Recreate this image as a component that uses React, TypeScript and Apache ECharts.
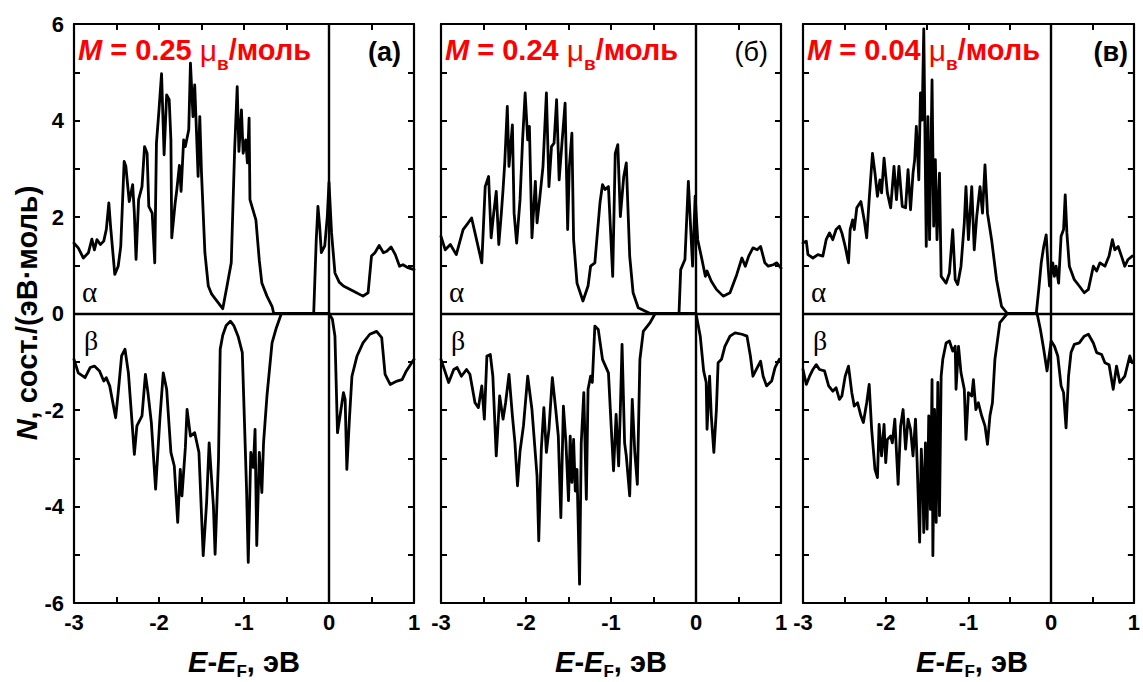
import React, { useEffect, useRef } from 'react';
import * as echarts from 'echarts';

const FONT = '"Liberation Sans", Arial, sans-serif';

const magMoments = ['0.25', '0.24', '0.04'];
const panelLabels = ['(а)', '(б)', '(в)'];
const xRange = [-3, 1];
const yRange = [-6, 6];

const alphaA: number[][] = [[-3,1.46],[-2.95,1.36],[-2.89,1.15],[-2.83,1.26],[-2.79,1.54],[-2.76,1.32],[-2.73,1.53],[-2.69,1.43],[-2.65,1.5],[-2.62,1.74],[-2.59,2.29],[-2.57,1.81],[-2.52,0.81],[-2.48,0.98],[-2.45,1.39],[-2.41,3.15],[-2.39,3.05],[-2.35,2.32],[-2.31,2.67],[-2.29,2.08],[-2.27,1.12],[-2.24,2.36],[-2.2,2.63],[-2.17,3.46],[-2.14,3.32],[-2.12,2.22],[-2.08,2.08],[-2.05,1.05],[-2.03,3.53],[-2.0,4.22],[-1.97,4.97],[-1.94,3.29],[-1.91,4.53],[-1.88,4.43],[-1.86,3.6],[-1.85,1.57],[-1.81,2.29],[-1.79,2.57],[-1.76,3.07],[-1.74,2.53],[-1.71,3.6],[-1.69,3.46],[-1.65,3.81],[-1.63,5.19],[-1.6,4.08],[-1.58,4.74],[-1.56,3.81],[-1.54,2.84],[-1.52,4.08],[-1.5,2.91],[-1.46,1.26],[-1.42,0.57],[-1.38,0.4],[-1.32,0.26],[-1.25,0.1],[-1.2,0.57],[-1.15,1.05],[-1.11,3.4],[-1.08,4.7],[-1.06,3.36],[-1.03,4.22],[-1.01,3.32],[-0.98,3.6],[-0.96,3.12],[-0.94,4.05],[-0.93,2.36],[-0.86,1.94],[-0.82,1.1],[-0.79,0.63],[-0.73,0.36],[-0.67,0.15],[-0.65,0],[-0.18,0],[-0.15,1.53],[-0.13,2.22],[-0.11,1.81],[-0.09,1.26],[-0.05,1.4],[-0.02,2.01],[0.0,2.72],[0.03,1.67],[0.07,0.84],[0.12,0.65],[0.17,0.57],[0.29,0.46],[0.4,0.36],[0.46,0.43],[0.5,1.19],[0.54,1.26],[0.59,1.41],[0.64,1.26],[0.68,1.29],[0.73,1.38],[0.78,1.22],[0.83,0.98],[0.87,1.01],[0.93,0.95],[1.0,0.91]];

const betaA: number[][] = [[-3,-0.95],[-2.95,-1.23],[-2.87,-1.33],[-2.81,-1.12],[-2.76,-1.09],[-2.7,-1.19],[-2.65,-1.4],[-2.62,-1.33],[-2.58,-1.5],[-2.51,-2.16],[-2.48,-1.64],[-2.44,-0.88],[-2.4,-0.74],[-2.36,-1.23],[-2.32,-2.19],[-2.29,-2.92],[-2.26,-2.33],[-2.2,-2.12],[-2.16,-1.26],[-2.13,-1.64],[-2.09,-2.26],[-2.04,-3.64],[-1.99,-2.19],[-1.95,-1.23],[-1.91,-1.57],[-1.86,-2.88],[-1.82,-3.16],[-1.78,-4.33],[-1.75,-3.23],[-1.73,-3.78],[-1.69,-2.78],[-1.67,-1.99],[-1.63,-2.54],[-1.58,-2.47],[-1.53,-2.88],[-1.48,-5.02],[-1.44,-3.92],[-1.41,-2.68],[-1.36,-3.99],[-1.34,-4.99],[-1.3,-3.02],[-1.28,-0.74],[-1.25,-0.45],[-1.21,-0.25],[-1.16,-0.16],[-1.12,-0.25],[-1.07,-0.47],[-1.02,-0.81],[-0.97,-3.64],[-0.95,-5.16],[-0.92,-2.88],[-0.89,-3.19],[-0.87,-2.4],[-0.85,-4.81],[-0.82,-2.88],[-0.79,-3.71],[-0.77,-2.68],[-0.73,-1.71],[-0.67,-0.61],[-0.62,-0.3],[-0.56,0],[0,0],[0.04,-0.12],[0.07,-0.47],[0.1,-2.47],[0.13,-2.12],[0.17,-1.64],[0.19,-1.78],[0.21,-3.23],[0.24,-2.19],[0.27,-1.3],[0.33,-0.88],[0.4,-0.61],[0.48,-0.43],[0.56,-0.37],[0.62,-0.5],[0.66,-1.26],[0.72,-1.47],[0.8,-1.4],[0.86,-1.37],[0.91,-1.19],[1.0,-0.95]];

const alphaB: number[][] = [[-3,1.6],[-2.95,1.32],[-2.89,1.43],[-2.82,1.22],[-2.74,1.74],[-2.68,1.88],[-2.64,1.98],[-2.6,1.67],[-2.52,1.05],[-2.48,2.63],[-2.44,2.84],[-2.41,1.57],[-2.38,2.08],[-2.35,2.53],[-2.32,1.43],[-2.29,2.08],[-2.27,2.57],[-2.25,3.12],[-2.22,4.29],[-2.2,3.05],[-2.16,3.91],[-2.14,2.08],[-2.11,1.46],[-2.07,2.36],[-2.04,3.6],[-2.01,4.57],[-1.98,3.6],[-1.96,3.88],[-1.93,1.57],[-1.89,2.74],[-1.87,1.88],[-1.84,2.36],[-1.8,3.05],[-1.76,4.57],[-1.73,2.63],[-1.7,3.46],[-1.67,3.53],[-1.64,4.43],[-1.61,2.77],[-1.58,3.46],[-1.54,4.36],[-1.51,1.74],[-1.49,3.05],[-1.46,3.74],[-1.44,1.53],[-1.4,0.63],[-1.33,0.26],[-1.27,0.57],[-1.24,0.98],[-1.19,1.05],[-1.13,2.29],[-1.1,2.67],[-1.07,2.57],[-1.03,2.63],[-0.98,0.77],[-0.95,3.32],[-0.92,3.5],[-0.89,2.01],[-0.85,2.84],[-0.82,3.12],[-0.78,1.19],[-0.74,0.43],[-0.68,0.12],[-0.54,0],[-0.2,0],[-0.18,0.91],[-0.13,1.12],[-0.09,2.74],[-0.06,1.67],[-0.04,0.98],[-0.01,2.43],[0.02,1.53],[0.07,1.12],[0.11,0.77],[0.13,0.88],[0.18,0.67],[0.24,0.5],[0.32,0.36],[0.4,0.43],[0.48,0.81],[0.54,1.15],[0.58,0.98],[0.62,1.19],[0.67,1.36],[0.72,1.32],[0.76,1.39],[0.81,1.05],[0.85,0.98],[0.91,1.01],[0.95,1.05],[1.0,0.94]];

const betaB: number[][] = [[-3,-0.95],[-2.91,-1.43],[-2.85,-1.16],[-2.81,-1.12],[-2.76,-1.3],[-2.7,-1.16],[-2.66,-1.26],[-2.6,-1.85],[-2.56,-1.95],[-2.52,-1.5],[-2.49,-2.19],[-2.46,-0.88],[-2.42,-0.85],[-2.39,-1.3],[-2.35,-2.95],[-2.31,-1.71],[-2.27,-2.19],[-2.24,-1.85],[-2.2,-1.26],[-2.16,-2.12],[-2.13,-2.68],[-2.1,-3.57],[-2.07,-2.85],[-2.03,-2.33],[-1.98,-1.3],[-1.93,-1.99],[-1.87,-3.37],[-1.85,-4.71],[-1.82,-2.81],[-1.79,-1.95],[-1.76,-2.88],[-1.73,-2.4],[-1.69,-1.33],[-1.65,-1.99],[-1.62,-2.54],[-1.59,-4.23],[-1.56,-1.92],[-1.53,-2.68],[-1.5,-3.88],[-1.48,-2.54],[-1.46,-3.5],[-1.44,-2.61],[-1.42,-3.68],[-1.4,-3.23],[-1.37,-5.61],[-1.35,-2.68],[-1.32,-1.64],[-1.29,-3.85],[-1.27,-1.57],[-1.24,-1.3],[-1.22,-1.43],[-1.19,-0.26],[-1.15,-0.33],[-1.1,-0.95],[-1.03,-1.23],[-0.99,-2.61],[-0.97,-3.26],[-0.94,-2.09],[-0.91,-3.16],[-0.89,-1.99],[-0.87,-0.64],[-0.84,-2.68],[-0.82,-2.95],[-0.78,-3.78],[-0.75,-1.78],[-0.72,-2.88],[-0.69,-3.54],[-0.66,-0.95],[-0.62,-0.37],[-0.54,-0.19],[-0.48,0],[0,0],[0.05,-0.47],[0.09,-1.19],[0.12,-1.43],[0.13,-2.4],[0.16,-1.3],[0.18,-2.12],[0.21,-2.88],[0.24,-1.99],[0.26,-1.02],[0.3,-0.95],[0.34,-0.68],[0.4,-0.47],[0.46,-0.4],[0.54,-0.43],[0.6,-0.47],[0.64,-0.88],[0.67,-1.3],[0.71,-1.16],[0.76,-0.99],[0.79,-1.3],[0.83,-1.5],[0.89,-1.4],[0.93,-1.12],[0.98,-0.95]];

const alphaC: number[][] = [[-3,1.46],[-2.96,1.5],[-2.94,1.22],[-2.88,1.15],[-2.82,1.22],[-2.76,1.19],[-2.72,1.53],[-2.68,1.67],[-2.64,1.53],[-2.6,1.74],[-2.56,1.81],[-2.53,1.67],[-2.49,1.39],[-2.45,1.05],[-2.43,1.74],[-2.4,1.94],[-2.38,1.74],[-2.35,2.19],[-2.3,2.32],[-2.26,1.94],[-2.23,1.57],[-2.2,2.36],[-2.16,3.32],[-2.13,2.91],[-2.1,2.43],[-2.07,2.77],[-2.05,2.5],[-2.02,3.22],[-1.98,2.5],[-1.94,2.19],[-1.9,3.05],[-1.87,2.36],[-1.84,3.05],[-1.8,2.22],[-1.76,2.19],[-1.73,2.98],[-1.7,2.15],[-1.67,2.91],[-1.65,3.19],[-1.63,3.88],[-1.6,2.77],[-1.58,4.57],[-1.56,4.01],[-1.54,5.9],[-1.51,1.39],[-1.49,4.08],[-1.47,1.53],[-1.44,4.84],[-1.42,1.81],[-1.4,3.19],[-1.38,1.53],[-1.35,2.91],[-1.33,0.77],[-1.27,0.63],[-1.23,0.84],[-1.19,1.74],[-1.16,0.7],[-1.13,0.6],[-1.09,0.98],[-1.05,1.88],[-1.03,2.63],[-1.0,1.53],[-0.96,2.63],[-0.93,1.32],[-0.9,2.01],[-0.86,2.63],[-0.83,2.08],[-0.8,3.08],[-0.77,2.08],[-0.72,1.53],[-0.66,0.7],[-0.6,0.15],[-0.53,0],[-0.18,0],[-0.15,0.5],[-0.12,1.05],[-0.09,1.39],[-0.06,1.63],[-0.04,1.05],[-0.02,0.57],[0.02,1.05],[0.04,0.77],[0.06,0.98],[0.09,0.63],[0.12,1.6],[0.15,1.74],[0.17,2.46],[0.19,1.67],[0.22,0.98],[0.28,0.7],[0.34,0.57],[0.4,0.43],[0.45,0.5],[0.51,0.98],[0.55,0.88],[0.59,1.05],[0.65,0.98],[0.7,1.19],[0.74,1.53],[0.77,1.32],[0.81,1.39],[0.85,1.19],[0.89,0.98],[0.93,1.12],[0.98,1.19]];

const betaC: number[][] = [[-3,-1.16],[-2.96,-1.47],[-2.92,-1.3],[-2.88,-1.16],[-2.84,-1.06],[-2.8,-1.16],[-2.74,-1.19],[-2.69,-1.5],[-2.64,-1.61],[-2.6,-1.54],[-2.56,-1.78],[-2.53,-1.71],[-2.49,-1.3],[-2.45,-1.09],[-2.41,-1.64],[-2.38,-1.92],[-2.34,-1.85],[-2.3,-2.12],[-2.27,-2.26],[-2.23,-1.85],[-2.2,-1.47],[-2.17,-2.4],[-2.13,-3.23],[-2.1,-3.4],[-2.08,-2.3],[-2.05,-2.95],[-2.02,-2.3],[-2.0,-3.09],[-1.98,-2.61],[-1.94,-2.54],[-1.92,-2.68],[-1.89,-2.19],[-1.85,-3.54],[-1.82,-2.33],[-1.79,-1.99],[-1.76,-2.81],[-1.73,-2.19],[-1.7,-2.4],[-1.67,-2.95],[-1.64,-2.19],[-1.62,-3.09],[-1.59,-4.74],[-1.57,-2.81],[-1.55,-3.57],[-1.54,-4.54],[-1.52,-2.68],[-1.5,-4.47],[-1.48,-2.12],[-1.46,-4.06],[-1.44,-1.37],[-1.43,-5.02],[-1.41,-1.99],[-1.39,-4.33],[-1.37,-1.43],[-1.35,-4.19],[-1.33,-1.3],[-1.31,-0.95],[-1.27,-0.61],[-1.23,-0.57],[-1.19,-0.78],[-1.16,-0.68],[-1.15,-1.57],[-1.12,-0.68],[-1.09,-1.23],[-1.05,-1.57],[-1.03,-2.61],[-1.0,-1.64],[-0.96,-1.71],[-0.94,-1.37],[-0.91,-1.99],[-0.88,-1.85],[-0.84,-2.12],[-0.8,-2.33],[-0.77,-2.71],[-0.74,-2.12],[-0.71,-1.85],[-0.68,-0.95],[-0.62,-0.19],[-0.53,0],[-0.17,0],[-0.13,-0.33],[-0.09,-0.74],[-0.05,-1.19],[0.0,-0.57],[0.04,-0.68],[0.08,-0.88],[0.12,-1.5],[0.15,-1.64],[0.18,-2.37],[0.21,-1.3],[0.24,-0.81],[0.28,-0.64],[0.34,-0.61],[0.4,-0.47],[0.45,-0.43],[0.51,-0.61],[0.55,-0.81],[0.61,-0.85],[0.65,-1.02],[0.7,-1.06],[0.75,-1.57],[0.79,-1.09],[0.83,-1.43],[0.89,-1.3],[0.95,-0.88],[0.98,-1.02]];

const alphaSets = [alphaA, alphaB, alphaC];
const betaSets = [betaA, betaB, betaC];

const gridBoxes = [
  { left: 74, top: 24, width: 340, height: 579 },
  { left: 441, top: 24, width: 340, height: 579 },
  { left: 803, top: 24, width: 338, height: 579 },
];

const black = '#000';
const red = '#ff0000';

function buildOption() {
  const grid: any[] = [];
  const xAxis: any[] = [];
  const yAxis: any[] = [];
  const series: any[] = [];
  const graphic: any[] = [];

  const tickCommon = { inside: true, length: 6, lineStyle: { color: black, width: 2 } };
  const lineCommon = { show: true, onZero: false, lineStyle: { color: black, width: 2.2 } };

  gridBoxes.forEach((g, i) => {
    grid.push({ ...g, containLabel: false });
    xAxis.push({
      gridIndex: i, type: 'value', min: xRange[0], max: xRange[1], interval: 0.5, position: 'bottom',
      axisLine: lineCommon, axisTick: tickCommon, splitLine: { show: false },
      axisLabel: {
        formatter: (v: number) => (Number.isInteger(v) ? String(v) : ''),
        color: black, fontSize: 22, fontWeight: 'bold', fontFamily: FONT, margin: 8,
      },
    });
    xAxis.push({
      gridIndex: i, type: 'value', min: xRange[0], max: xRange[1], interval: 0.5, position: 'top',
      axisLine: lineCommon, axisTick: tickCommon, splitLine: { show: false }, axisLabel: { show: false },
    });
    yAxis.push({
      gridIndex: i, type: 'value', min: yRange[0], max: yRange[1], interval: 1, position: 'left',
      axisLine: lineCommon, axisTick: tickCommon, splitLine: { show: false },
      axisLabel: {
        show: i === 0,
        formatter: (v: number) => (v % 2 === 0 ? String(v) : ''),
        color: black, fontSize: 22, fontWeight: 'bold', fontFamily: FONT, margin: 10,
      },
    });
    yAxis.push({
      gridIndex: i, type: 'value', min: yRange[0], max: yRange[1], interval: 1, position: 'right',
      axisLine: lineCommon, axisTick: tickCommon, splitLine: { show: false }, axisLabel: { show: false },
    });

    series.push({
      type: 'line', name: 'alpha' + i, xAxisIndex: 2 * i, yAxisIndex: 2 * i,
      data: alphaSets[i], showSymbol: false, symbol: 'none',
      lineStyle: { color: black, width: 2.8, join: 'round', cap: 'round' },
      markLine: {
        silent: true, symbol: ['none', 'none'], label: { show: false },
        lineStyle: { color: black, width: 2.4, type: 'solid' },
        emphasis: { disabled: true },
        data: [{ yAxis: 0 }, { xAxis: 0 }],
      },
    });
    series.push({
      type: 'line', name: 'beta' + i, xAxisIndex: 2 * i, yAxisIndex: 2 * i,
      data: betaSets[i], showSymbol: false, symbol: 'none',
      lineStyle: { color: black, width: 2.8, join: 'round', cap: 'round' },
    });

    const L = g.left;
    const R = g.left + g.width;
    graphic.push({
      type: 'text', x: L + 4, y: 50, z: 100,
      style: {
        text: `{m|M}{r| = ${magMoments[i]} }{mu|μ}{s|в}{r|/моль}`,
        align: 'left', verticalAlign: 'middle', fill: red,
        rich: {
          m: { fontFamily: FONT, fontSize: 29, fontWeight: 'bold', fontStyle: 'italic', fill: red, lineHeight: 46, verticalAlign: 'middle' },
          r: { fontFamily: FONT, fontSize: 29, fontWeight: 'bold', fill: red, lineHeight: 46, verticalAlign: 'middle' },
          mu: { fontFamily: FONT, fontSize: 30, fontWeight: 'normal', fill: red, lineHeight: 46, verticalAlign: 'middle' },
          s: { fontFamily: FONT, fontSize: 19, fontWeight: 'bold', fill: red, lineHeight: 18, verticalAlign: 'bottom' },
        },
      },
    });
    graphic.push({
      type: 'text', x: R - 13, y: 52, z: 100,
      style: {
        text: panelLabels[i], align: 'right', verticalAlign: 'middle', fill: black,
        fontFamily: FONT, fontSize: 27, fontWeight: i === 1 ? 'normal' : 'bold',
      },
    });
    graphic.push({
      type: 'text', x: L + 8, y: 292, z: 100,
      style: { text: 'α', align: 'left', verticalAlign: 'middle', fill: black, fontFamily: '"Liberation Serif", "DejaVu Serif", serif', fontSize: 29 },
    });
    graphic.push({
      type: 'text', x: L + 10, y: 340, z: 100,
      style: { text: 'β', align: 'left', verticalAlign: 'middle', fill: black, fontFamily: '"Liberation Serif", "DejaVu Serif", serif', fontSize: 28 },
    });
    graphic.push({
      type: 'text', x: L + g.width / 2, y: 662, z: 100,
      style: {
        text: '{i|E}{b|-}{i|E}{s|F}{b|, эВ}',
        align: 'center', verticalAlign: 'middle', fill: black,
        rich: {
          i: { fontFamily: FONT, fontSize: 29, fontWeight: 'bold', fontStyle: 'italic', fill: black, lineHeight: 36, verticalAlign: 'middle' },
          b: { fontFamily: FONT, fontSize: 29, fontWeight: 'bold', fill: black, lineHeight: 36, verticalAlign: 'middle' },
          s: { fontFamily: FONT, fontSize: 17, fontWeight: 'bold', fill: black, lineHeight: 14, verticalAlign: 'bottom' },
        },
      },
    });
  });

  graphic.push({
    type: 'text', x: 27, y: 313, rotation: Math.PI / 2, z: 100,
    style: {
      text: '{i|N}{b|, сост./(эВ·моль)}',
      align: 'center', verticalAlign: 'middle', fill: black,
      rich: {
        i: { fontFamily: FONT, fontSize: 29, fontWeight: 'bold', fontStyle: 'italic', fill: black },
        b: { fontFamily: FONT, fontSize: 29, fontWeight: 'bold', fill: black },
      },
    },
  });

  return {
    animation: false,
    backgroundColor: '#fff',
    grid, xAxis, yAxis, series, graphic,
  };
}

export default function App() {
  const ref = useRef<HTMLDivElement>(null);
  useEffect(() => {
    if (!ref.current) return;
    const chart = echarts.init(ref.current, undefined, { renderer: 'svg' });
    chart.setOption(buildOption() as any);
    return () => chart.dispose();
  }, []);
  return (
    <div
      ref={ref}
      style={{ position: 'absolute', left: 0, top: 0, width: 1143, height: 682 }}
    />
  );
}
